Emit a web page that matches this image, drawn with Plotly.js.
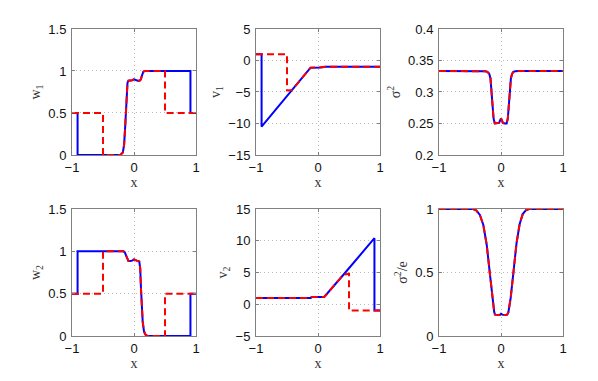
<!DOCTYPE html>
<html>
<head>
<meta charset="utf-8">
<script src="https://cdn.plot.ly/plotly-3.0.1.min.js"></script>
<style>
  html, body { margin: 0; padding: 0; background: white; }
  #chart { width: 598px; height: 381px; }
</style>
</head>
<body>
<div id="chart"></div>
<script>
// values
const w1CoreX = [-0.22, -0.18, -0.16, -0.145, -0.132, -0.12, -0.105, -0.09, -0.06, -0.03, 0, 0.03, 0.06, 0.09, 0.11, 0.13, 0.15, 0.17];
const w1CoreY = [0, 0.03, 0.12, 0.3, 0.5, 0.72, 0.86, 0.885, 0.885, 0.89, 0.9, 0.89, 0.885, 0.885, 0.9, 0.95, 0.99, 1];

const w2CoreX = [-0.17, -0.15, -0.13, -0.11, -0.09, -0.06, -0.03, 0, 0.03, 0.06, 0.085, 0.1, 0.113, 0.125, 0.14, 0.16, 0.18, 0.22];
const w2CoreY = [1, 0.99, 0.95, 0.9, 0.885, 0.885, 0.89, 0.905, 0.89, 0.885, 0.88, 0.8, 0.55, 0.35, 0.17, 0.06, 0.02, 0];

const w1BlueX = [-1, -0.91, -0.91].concat(w1CoreX, [0.91, 0.91, 1]);
const w1BlueY = [0.5, 0.5, 0].concat(w1CoreY, [1, 0.5, 0.5]);
const w1RedX = [-1, -0.5, -0.5].concat(w1CoreX, [0.5, 0.5, 1]);
const w1RedY = [0.5, 0.5, 0].concat(w1CoreY, [1, 0.5, 0.5]);

const w2BlueX = [-1, -0.91, -0.91].concat(w2CoreX, [0.91, 0.91, 1]);
const w2BlueY = [0.5, 0.5, 1].concat(w2CoreY, [0, 0.5, 0.5]);
const w2RedX = [-1, -0.5, -0.5].concat(w2CoreX, [0.5, 0.5, 1]);
const w2RedY = [0.5, 0.5, 1].concat(w2CoreY, [0, 0.5, 0.5]);

const v1BlueX = [-1, -0.91, -0.91, -0.4, -0.12, 0.05, 0.12, 1];
const v1BlueY = [1, 1, -10.5, -4.55, -1.15, -1.12, -1.0, -1.0];
const v1RedX = [-1, -0.5, -0.5, -0.42, -0.12, 0.05, 0.12, 1];
const v1RedY = [1, 1, -4.75, -4.7, -1.15, -1.12, -1.0, -1.0];

const v2BlueX = [-1, -0.12, -0.1, 0.1, 0.41, 0.91, 0.91, 1];
const v2BlueY = [1.0, 1.0, 1.13, 1.15, 4.65, 10.4, -1, -1];
const v2RedX = [-1, -0.12, -0.1, 0.1, 0.41, 0.5, 0.5, 1];
const v2RedY = [1.0, 1.0, 1.13, 1.15, 4.65, 4.8, -1, -1];

const sigX = [-1, -0.3, -0.25, -0.22, -0.19, -0.17, -0.155, -0.14, -0.12, -0.1, -0.06, -0.03, -0.01, 0, 0.01, 0.03, 0.06, 0.09, 0.11, 0.13, 0.145, 0.16, 0.18, 0.2, 0.23, 0.28, 1];
const sigY = [0.3333, 0.3333, 0.333, 0.332, 0.329, 0.322, 0.305, 0.28, 0.258, 0.25, 0.25, 0.251, 0.256, 0.258, 0.256, 0.251, 0.25, 0.25, 0.258, 0.28, 0.305, 0.322, 0.329, 0.332, 0.333, 0.3333, 0.3333];

const sigeX = [-1, -0.45, -0.4, -0.34, -0.285, -0.23, -0.177, -0.134, -0.11, -0.097, -0.06, -0.02, 0, 0.02, 0.06, 0.1, 0.12, 0.156, 0.2, 0.25, 0.3, 0.35, 0.4, 0.45, 1];
const sigeY = [1, 1, 0.99, 0.953, 0.874, 0.717, 0.48, 0.27, 0.19, 0.168, 0.165, 0.165, 0.175, 0.168, 0.165, 0.168, 0.19, 0.3, 0.5, 0.73, 0.88, 0.96, 0.99, 1, 1];

const yTitles = ['w<sub>1</sub>', 'v<sub>1</sub>', 'σ<sup>2</sup>', 'w<sub>2</sub>', 'v<sub>2</sub>', 'σ<sup>2</sup>/e'];
const yRanges = [[0, 1.5], [-15, 5], [0.2, 0.4], [0, 1.5], [-5, 15], [0, 1]];
const yTicks = [[0, 0.5, 1, 1.5], [-15, -10, -5, 0, 5], [0.2, 0.25, 0.3, 0.35, 0.4], [0, 0.5, 1, 1.5], [-5, 0, 5, 10, 15], [0, 0.5, 1]];
const xTicks = [-1, 0, 1];

const curves = [
    [w1BlueX, w1BlueY, w1RedX, w1RedY],
    [v1BlueX, v1BlueY, v1RedX, v1RedY],
    [sigX, sigY, sigX, sigY],
    [w2BlueX, w2BlueY, w2RedX, w2RedY],
    [v2BlueX, v2BlueY, v2RedX, v2RedY],
    [sigeX, sigeY, sigeX, sigeY]
];

// panel positions (paper fractions)
const xDomains = [[0.1204, 0.3278], [0.4281, 0.6355], [0.7341, 0.9415]];
const yDomains = [[0.5932, 0.9239], [0.1181, 0.4514]];

let traces = [];
let layout = {
    width: 598, height: 381,
    margin: { l: 0, r: 0, t: 0, b: 0 },
    paper_bgcolor: 'white',
    plot_bgcolor: 'white',
    showlegend: false
};

const axisCommon = {
    showline: true, linecolor: '#808080', linewidth: 1, mirror: 'ticks',
    ticks: 'inside', ticklen: 3, tickcolor: '#808080',
    showgrid: true, gridcolor: '#bbbbbb', griddash: '1px,3px', gridwidth: 1,
    zeroline: false,
    tickfont: { family: 'Liberation Sans, Arial, sans-serif', size: 13, color: '#111' }
};

for (let i = 0; i < 6; i++) {
    const n = i === 0 ? '' : String(i + 1);
    const c = curves[i];
    traces.push({
        type: 'scatter', mode: 'lines', x: c[0], y: c[1],
        xaxis: 'x' + n, yaxis: 'y' + n,
        line: { color: '#0000ff', width: 2 }
    });
    traces.push({
        type: 'scatter', mode: 'lines', x: c[2], y: c[3],
        xaxis: 'x' + n, yaxis: 'y' + n,
        line: { color: '#ff0000', width: 2, dash: '7px,4px' }
    });

    layout['xaxis' + n] = Object.assign({}, axisCommon, {
        domain: xDomains[i % 3],
        anchor: 'y' + n,
        range: [-1, 1],
        tickmode: 'array', tickvals: xTicks,
        ticklabelstandoff: 0,
        title: { text: 'x', standoff: 0, font: { family: 'Liberation Serif, Times New Roman, serif', size: 14, color: '#333' } }
    });
    layout['yaxis' + n] = Object.assign({}, axisCommon, {
        domain: yDomains[Math.floor(i / 3)],
        anchor: 'x' + n,
        range: yRanges[i],
        tickmode: 'array', tickvals: yTicks[i],
        ticklabelstandoff: 2,
        title: { text: yTitles[i], standoff: 4, font: { family: 'Liberation Serif, Times New Roman, serif', size: 14, color: '#333' } }
    });
}

Plotly.newPlot('chart', traces, layout, { staticPlot: true });
</script>
</body>
</html>
